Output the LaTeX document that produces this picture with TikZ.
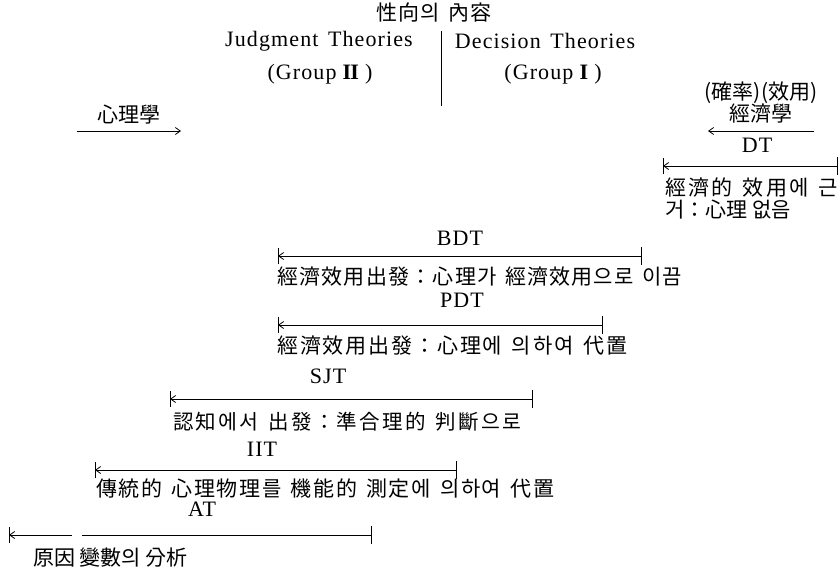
\documentclass[tikz,border=0pt]{standalone}
\usepackage{fontspec}
\setmainfont{Liberation Serif}
\newfontfamily\latf[LetterSpace=5]{Liberation Serif}
\newfontfamily\kr{Noto Sans CJK KR}
\usetikzlibrary{arrows.meta}
\makeatletter
\newcommand\wsp{\hskip 6pt\relax}
\newcommand\spreadtext[2]{\hbox to #1{\@tfor\sp@x:=#2\do{\sp@x\hskip 0pt plus 1fil\relax}\unskip}}
\makeatother
\tikzset{
  lat/.style={font=\latf\fontsize{22}{26}\selectfont, inner sep=0pt},
  kor/.style={font=\kr\fontsize{21}{25}\selectfont, inner sep=0pt},
  korw/.style={kor, anchor=west},
  barline/.style={line width=0.8pt, -{Straight Barb[length=5pt,width=7pt,line width=0.8pt]}},
  plainline/.style={line width=0.8pt},
  tickline/.style={line width=0.9pt},
}
\newcommand\mybar[4]{% name, xL, xR, y
  \coordinate (#1L) at (#2,#4);
  \coordinate (#1R) at (#3,#4);
  \coordinate (#1La) at (#2,#4-8);
  \coordinate (#1Lb) at (#2,#4+8);
  \coordinate (#1Ra) at (#3,#4-9);
  \coordinate (#1Rb) at (#3,#4+9);
  \draw[tickline] (#1La) -- (#1Lb);
  \draw[tickline] (#1Ra) -- (#1Rb);
}
\begin{document}
\begin{tikzpicture}[x=1pt,y=-1pt]
\useasboundingbox (0,0) rectangle (840,571);

% header
\node[kor] (title) at (434,13) {\spreadtext{115pt}{性向의\wsp 內容}};
\node[lat] (jt) at (319,41) {Judgment\hspace{3pt} Theories};
\node[lat] (dt) at (545,41) {Decision\hspace{3pt} Theories};
\node[lat] (g2) at (320,74) {(Group\;{\bfseries I\kern-0.8ptI}\;)};
\node[lat] (g1) at (553,74) {(Group\;{\bfseries I}\;)};
\coordinate (vtop) at (441,31);
\coordinate (vbot) at (441,106);
\draw[plainline] (vtop) -- (vbot);

% left: psychology
\node[kor] (psy) at (129,115) {心理學};
\coordinate (psyA) at (77,131);
\coordinate (psyB) at (181,131);
\draw[barline] (psyA) -- (psyB);

% right: economics
\node[kor] (prob) at (761,93) {(確率)(效用)};
\node[kor] (eco) at (761,114) {經濟學};
\coordinate (ecoA) at (814,131);
\coordinate (ecoB) at (708,131);
\draw[barline] (ecoA) -- (ecoB);

% DT
\node[lat] (dtl) at (757,145) {DT};
\mybar{dtb}{663}{837}{166}
\draw[barline] (dtbR) -- (dtbL);
\node[korw] (dtt1) at (665,188) {\spreadtext{173pt}{經濟的\wsp 效用에\wsp 근}};
\node[korw] (dtt2) at (665,210) {거：心理 없음};

% BDT
\node[lat] (bdtl) at (460,238) {BDT};
\mybar{bdtb}{278}{641}{256}
\draw[barline] (bdtbR) -- (bdtbL);
\node[korw] (bdtt) at (277,277) {\spreadtext{405pt}{經濟效用出發：心理가\wsp 經濟效用으로\wsp 이끔}};

% PDT
\node[lat] (pdtl) at (462,300) {PDT};
\mybar{pdtb}{278}{602}{325}
\draw[barline] (pdtbR) -- (pdtbL);
\node[korw] (pdtt) at (277,346) {\spreadtext{350pt}{經濟效用出發：心理에\wsp 의하여\wsp 代置}};

% SJT
\node[lat] (sjtl) at (328,376) {SJT};
\mybar{sjtb}{170}{532}{399}
\draw[barline] (sjtbR) -- (sjtbL);
\node[korw, font=\kr\fontsize{20.5}{24}\selectfont] (sjtt) at (173,422) {\spreadtext{348pt}{認知에서\wsp 出發：準合理的\wsp 判斷으로}};

% IIT
\node[lat] (iitl) at (262,449) {IIT};
\mybar{iitb}{95}{456}{470}
\draw[barline] (iitbR) -- (iitbL);
\node[korw] (iitt) at (96,489) {\spreadtext{458pt}{傳統的\wsp 心理物理를\wsp 機能的\wsp 測定에\wsp 의하여\wsp 代置}};

% AT
\node[lat] (atl) at (202,509) {AT};
\mybar{atb}{9}{371}{535}
\coordinate (atg1) at (82,535);
\coordinate (atg2) at (72,535);
\draw[plainline] (atbR) -- (atg1);
\draw[barline] (atg2) -- (atbL);
\node[korw] (att) at (33,558) {原因 變數의 分析};
\end{tikzpicture}
\end{document}
